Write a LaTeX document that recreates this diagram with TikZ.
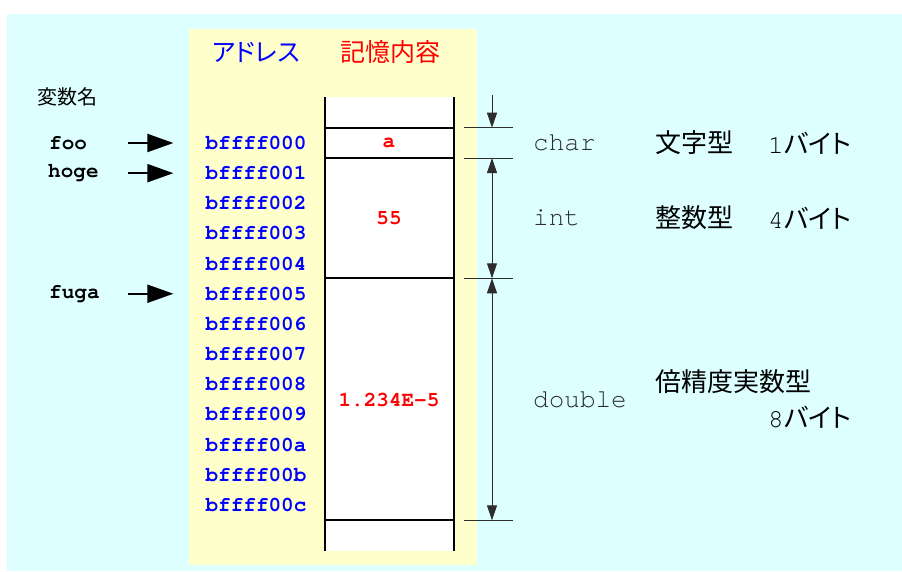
\documentclass[tikz,border=0pt]{standalone}
\usepackage{fontspec}
\setmonofont[Ligatures={NoCommon,NoRequired}]{TeX Gyre Cursor}
\newfontfamily\jp[RawFeature=+palt]{Noto Sans CJK JP}
\usetikzlibrary{arrows.meta}

\definecolor{cyanbg}{RGB}{221,255,255}
\definecolor{yellowbg}{RGB}{255,255,204}
\definecolor{addrblue}{RGB}{0,0,255}
\definecolor{valred}{RGB}{255,0,0}
\definecolor{labelgray}{RGB}{45,45,45}

\begin{document}
\begin{tikzpicture}
  [x=1pt,y=-1pt,
   addr/.style={inner sep=0pt,text=addrblue,font=\fontsize{21}{21}\selectfont\ttfamily\bfseries},
   val/.style={inner sep=0pt,text=valred,font=\fontsize{21}{21}\selectfont\ttfamily\bfseries},
   varname/.style={inner sep=0pt,anchor=west,font=\fontsize{21}{21}\selectfont\ttfamily\bfseries},
   ctype/.style={inner sep=0pt,anchor=west,text=labelgray,font=\fontsize{26}{26}\selectfont\ttfamily},
   jtype/.style={inner sep=0pt,anchor=west,font=\fontsize{26}{26}\selectfont\jp},
   ptr/.style={line width=2pt,-{Triangle[length=26pt,width=18pt]}},
   dimline/.style={line width=1pt,draw=labelgray},
   dimarrow/.style={dimline,{Triangle[length=15pt,width=10pt]}-{Triangle[length=15pt,width=10pt]}},
   cellline/.style={line width=2pt}]

  % background panels
  \useasboundingbox (0,0) rectangle (902,571);
  \fill[cyanbg] (7,14) rectangle (902,571);
  \fill[yellowbg] (189,29) rectangle (477,565);
  \fill[white] (325,97) rectangle (454,551);

  % headers
  \node[inner sep=0pt,text=addrblue,font=\fontsize{25}{25}\selectfont\jp] (haddr) at (256,52) {アドレス};
  \node[inner sep=0pt,text=valred,font=\fontsize{25}{25}\selectfont\jp] (hmem) at (390,52) {記憶内容};
  \node[inner sep=0pt,font=\fontsize{20}{20}\selectfont\jp] (hvar) at (67,97) {変数名};

  % addresses
  \foreach \i/\a in {0/000,1/001,2/002,3/003,4/004,5/005,6/006,7/007,8/008,9/009,10/00a,11/00b,12/00c}
    \node[addr] (a\i) at (256,143+30.15*\i) {bffff\a};

  % memory cells
  \draw[cellline] (325,97) -- (325,551);
  \draw[cellline] (454,97) -- (454,551);
  \foreach \y in {127.7,158,278.3,520.3}
    \draw[cellline] (325,\y) -- (454,\y);
  \node[val] (va) at (389,143) {a};
  \node[val] (vi) at (389,218) {55};
  \node[val] (vd) at (389,400) {1.234E-5};

  % variable names
  \node[varname] (foo) at (49,143) {foo};
  \node[varname] (hoge) at (48,173) {hoge};
  \node[varname] (fuga) at (49,294) {fuga};
  \foreach \n in {0,1,5}
    \draw[ptr] ([xshift=-77pt]a\n.west) -- ([xshift=-32pt]a\n.west);

  % sizes
  \coordinate (t0) at (492,95);
  \coordinate (t1) at (492,127.7);
  \coordinate (t2) at (492,158);
  \coordinate (t3) at (492,278.3);
  \coordinate (t4) at (492,520.3);
  \foreach \t in {t1,t2,t3,t4}
    \draw[dimline] ([xshift=-28pt]\t) -- ([xshift=21pt]\t);
  \draw[dimline,-{Triangle[length=15pt,width=10pt]}] (t0) -- (t1);
  \draw[dimarrow] (t2) -- (t3);
  \draw[dimarrow] (t3) -- (t4);

  % types
  \node[ctype] (char) at (533,143) {char};
  \node[ctype] (int) at (533,218) {int};
  \node[ctype] (double) at (533,400) {double};
  \node[jtype] (jchar) at (655,143) {文字型};
  \node[jtype] (jint) at (655,218) {整数型};
  \node[jtype] (jdouble) at (655,382) {倍精度実数型};
  \node[jtype] (bchar) at (768,143) {{\ttfamily 1}バイト};
  \node[jtype] (bint) at (768,218) {{\ttfamily 4}バイト};
  \node[jtype] (bdouble) at (768,417) {{\ttfamily 8}バイト};
\end{tikzpicture}
\end{document}
